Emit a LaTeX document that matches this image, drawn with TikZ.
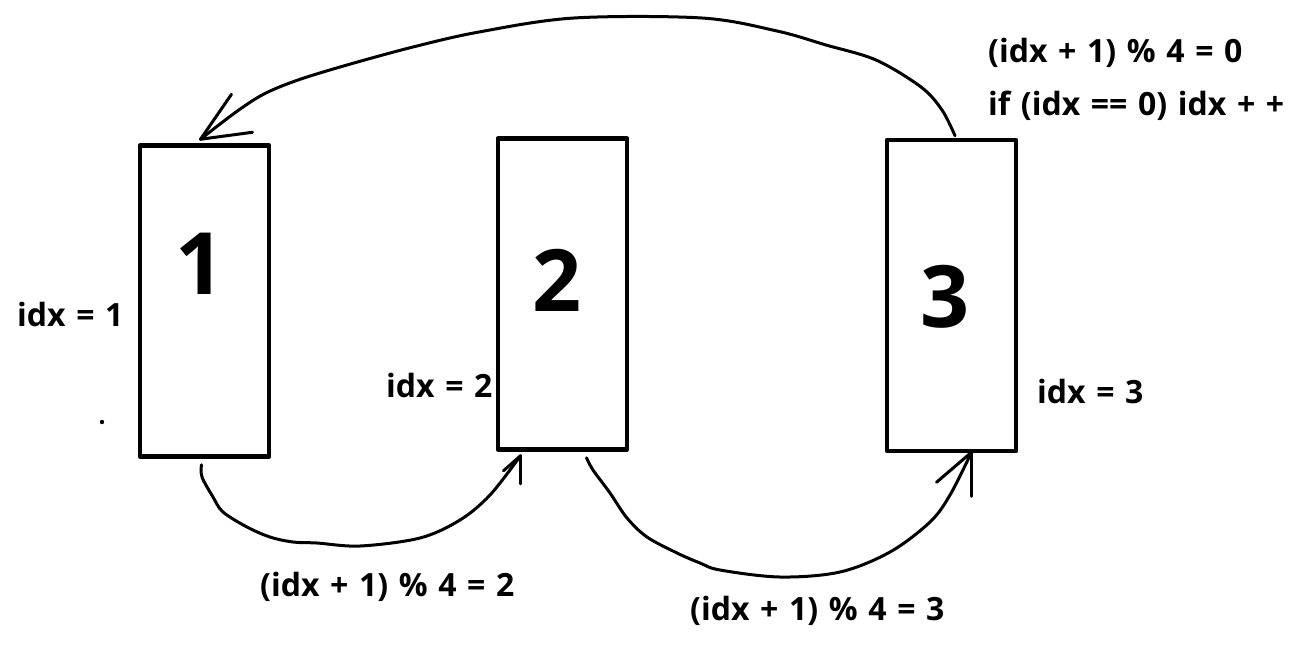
\documentclass[tikz,border=0pt]{standalone}
\usepackage{fontspec}
\setmainfont{Open Sans}[WordSpace=1.28]
\begin{document}
\begin{tikzpicture}[x=1pt,y=-1pt, line join=round, line cap=round,
 box/.style={draw, line width=4.5pt, inner sep=0pt, minimum width=129pt, minimum height=311pt},
 big/.style={font=\fontsize{86}{86}\selectfont\bfseries, inner sep=0pt},
 lbl/.style={font=\fontsize{32}{32}\selectfont\bfseries, inner sep=0pt, anchor=west},
 conn/.style={line width=3pt}]
\useasboundingbox (0,0) rectangle (1292,649);
% boxes
\node[box] (b1) at (204.5,301) {};
\node[box] (b2) at (562.5,294) {};
\node[box] (b3) at (951.5,295.5) {};
% digits
\node[big] (n1) at (200,264) {1};
\node[big] (n2) at (557,280) {2};
\node[big] (n3) at (945,297) {3};
% labels
\node[lbl] (l1) at (17,314) {idx = 1};
\node[lbl] (l2) at (386,385) {idx = 2};
\node[lbl] (l3) at (1037,391) {idx = 3};
\node[lbl] (l4) at (260,587) {(idx + 1) \% 4 = 2};
\node[lbl] (l5) at (690,611) {(idx + 1) \% 4 = 3};
\node[lbl] (l6) at (988,53) {(idx + 1) \% 4 = 0};
\node[lbl] (l7) at (988,106) {if (idx == 0) idx + +};
% stray dot
\fill (102,422) circle (2.2pt);
% connector anchors
\path (b3.north) ++(3.5,-2) coordinate (s3);
\path (b1.north) ++(-4,-4) coordinate (t1);
\path (b1.south) ++(-3,6) coordinate (s1);
\path (b2.south) ++(-42,4) coordinate (t2);
\path (b2.south) ++(24,6) coordinate (s2);
\path (b3.south) ++(20,-1) coordinate (t3);
% top connector 3 -> 1
\draw[conn] plot[smooth, tension=0.55] coordinates {(s3) (942,110) (921,87) (876,60) (826,45) (777,31) (702,18) (574,18) (479,32) (413,47) (347,65) (298,80) (264,94) (236,112) (t1)};
\draw[conn] (t1) -- ++(31,-45);
\draw[conn] (t1) -- ++(52,-7);
% bottom connector 1 -> 2
\draw[conn] plot[smooth, tension=0.55] coordinates {(s1) (202,477) (213,497) (223,512) (247,527) (270,537) (293,542) (317,543) (360,546) (420,538) (460,520) (490,495) (t2)};
\draw[conn] (t2) -- ++(0,28);
\draw[conn] (t2) -- ++(-17,15);
% bottom connector 2 -> 3
\draw[conn] plot[smooth, tension=0.55] coordinates {(s2) (593,470) (610,493) (627,518) (647,537) (677,553) (700,563) (720,570) (780,577) (840,572) (890,552) (930,522) (950,495) (t3)};
\draw[conn] (t3) -- ++(-35,30);
\draw[conn] (t3) -- ++(0,44);
\end{tikzpicture}
\end{document}
